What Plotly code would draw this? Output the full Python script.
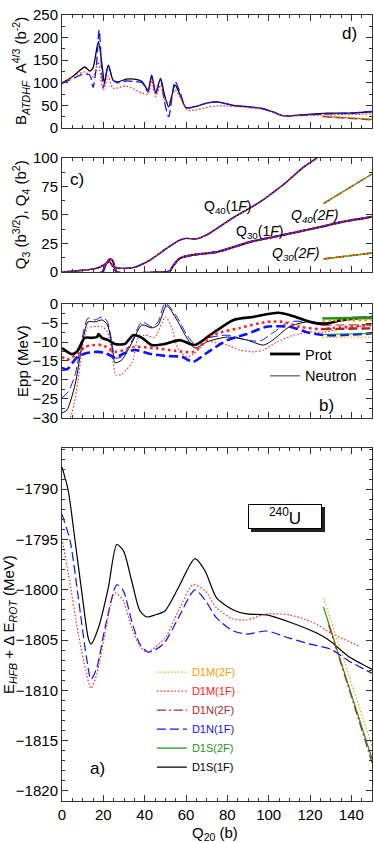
import plotly.graph_objects as go

# --- Panel a): E_HFB + dE_ROT (MeV) ---
a_d1s_1f_q = [0, 3, 6.3, 9.5, 12.7, 14, 17.6, 22.4, 26.5, 29.7, 33.7, 37.7, 41, 45, 49.8, 56.3, 64.3, 69.2, 74.8, 82.9, 89.4, 99, 110, 120, 126, 131, 138.5, 150]
a_d1s_1f_e = [-1787.8, -1790.1, -1795.1, -1800.1, -1804.8, -1805.4, -1803.8, -1799.8, -1795.5, -1796.1, -1799.1, -1802.1, -1802.7, -1802.5, -1802.1, -1799.8, -1796.9, -1798.1, -1800.8, -1802.0, -1802.4, -1802.5, -1803.2, -1804.0, -1804.6, -1805.3, -1806.6, -1807.9]
a_d1n_1f_q = [0, 3.9, 7.9, 11.9, 14, 16.8, 20.8, 26.5, 29.7, 33.7, 37.7, 41.8, 49, 56.3, 64.3, 69.2, 74.8, 82.9, 89.4, 99, 110, 120, 130, 139, 150]
a_d1n_1f_e = [-1792.5, -1795.1, -1800.8, -1806.8, -1808.9, -1807.8, -1803.8, -1799.5, -1800.1, -1803.1, -1805.4, -1806.2, -1805.4, -1802.8, -1800.0, -1801.0, -1802.8, -1804.1, -1804.4, -1804.1, -1804.8, -1805.4, -1805.9, -1807.1, -1808.3]
a_d1m_1f_q = [0, 3.1, 7.9, 11.9, 14, 16.8, 20.8, 25.6, 29.7, 33.7, 37.7, 41, 49.8, 56.3, 63.5, 69.2, 74.8, 82.9, 89.4, 99, 110, 121, 131, 144]
a_d1m_1f_e = [-1794.9, -1798.4, -1804.4, -1808.4, -1809.8, -1808.4, -1804.4, -1800.3, -1801.1, -1803.8, -1805.6, -1806.2, -1804.8, -1802.1, -1799.5, -1800.1, -1801.8, -1802.9, -1803.0, -1802.4, -1802.5, -1803.2, -1804.4, -1805.6]
a_d1s_2f_q = [126.5, 138, 150]
a_d1s_2f_e = [-1801.7, -1809.1, -1816.8]
a_d1n_2f_q = [129, 140, 150]
a_d1n_2f_e = [-1803.5, -1810.6, -1817.2]
a_d1m_2f_q = [126.5, 138, 150]
a_d1m_2f_e = [-1800.8, -1808.0, -1815.5]

# --- Panel b): pairing energies (MeV) ---
b_d1s_p_q = [0, 4.8, 7.3, 11, 14.4, 17, 17.6, 19.4, 22.4, 25.6, 30.5, 34.4, 38.7, 43.5, 50, 57, 64.3, 71.6, 83, 92.5, 104.5, 112, 120, 127, 133, 141, 150]
b_d1s_p_v = [-11.6, -13.2, -12.5, -8.9, -8.9, -8.7, -7.9, -8.9, -9.5, -10.5, -10.5, -8.2, -8.9, -10.8, -10.5, -9.5, -10.8, -8.2, -4.2, -3.4, -2.3, -3.2, -4.7, -5.3, -4.5, -3.7, -3.7]
b_d1n_p_q = [0, 2.4, 7.3, 12, 17.4, 21, 25.6, 30.5, 35, 43.5, 51, 58, 63.4, 70, 80, 89.5, 99, 110, 120, 127, 135, 150]
b_d1n_p_v = [-16.8, -17.2, -14, -12.9, -12.6, -12.9, -14, -12.9, -12.1, -13.2, -13.7, -13.9, -15.2, -12.9, -9.5, -7.9, -6, -6, -7.6, -8.2, -8.2, -7.7]
b_d1m_p_q = [0, 2.4, 8.7, 11, 19.4, 25.6, 35, 45, 54.7, 63.4, 73, 86, 99, 107, 115, 125, 131, 150]
b_d1m_p_v = [-13.9, -14.7, -12.6, -11.3, -10.8, -12.6, -11.3, -11.6, -12.3, -12.6, -8.2, -6.3, -4.7, -4.7, -6, -6.6, -6.3, -5.5]
b_d1s_n_q = [0, 2.4, 6.3, 9.7, 12.6, 16, 19.4, 22, 24.7, 25.6, 29, 34, 38.7, 43.5, 46.5, 50, 51, 55.6, 60.5, 64.3, 70, 80, 89.5, 97.5, 102, 110, 118.5, 127, 135, 150]
b_d1s_n_v = [-28.7, -27.9, -21.3, -10.8, -4.7, -4.7, -4.2, -5.5, -12.9, -15.5, -14.7, -10, -5.5, -6.3, -5.5, -0.8, -0.5, -4.2, -9, -11.6, -10, -8.7, -9.5, -10.8, -9.5, -6, -4.7, -5, -4.5, -3.4]
b_d1n_n_q = [0, 3, 6.3, 9.7, 12.6, 16, 19.4, 22, 24.7, 25.6, 29, 34, 38.7, 43.5, 46.5, 50, 55.6, 60.5, 64.3, 70, 80, 89.5, 96, 102, 110, 120, 127, 135, 150]
b_d1n_n_v = [-24.7, -23.1, -18.7, -9, -3.7, -4.2, -3.4, -4.7, -12.1, -14.2, -13.9, -9.5, -4.7, -6, -4.7, 0.3, -3.4, -8.2, -10.5, -9, -8.2, -9.5, -9.7, -7.6, -4.7, -4.7, -5, -4.2, -3.2]
b_d1m_n_q = [0, 4.8, 7.7, 10, 12.6, 19.4, 22, 24.7, 26, 29, 34, 36.8, 40, 45, 50, 53, 56, 60.5, 64.3, 70, 80, 86, 92.5, 97.5, 104, 112, 120, 127, 135, 150]
b_d1m_n_v = [-35, -28.7, -20.5, -10.8, -6.3, -6, -7.4, -15.3, -18.7, -18.4, -15.3, -9, -8.2, -8.7, -3.4, -6, -11.6, -13.9, -12.9, -10, -10.8, -12.1, -12.6, -12.1, -10, -8.2, -7.4, -7.4, -6.6, -5.5]
b_2f_q = [126, 150]
b_d1s_2f_p = [-3.8, -3.6]
b_d1s_2f_n = [-8.0, -7.8]
b_d1n_2f_p = [-6.6, -6.4]
b_d1n_2f_n = [-5.6, -5.4]
b_d1m_2f_p = [-4.4, -4.2]
b_d1m_2f_n = [-8.8, -8.7]

# --- Panel c): multipole moments ---
c_q40_1f_q = [0, 10, 16, 18.4, 20.8, 23, 24.5, 26.5, 34.5, 42.6, 50.8, 57, 60, 63.4, 66, 70, 82.7, 95.8, 107, 116.6, 123.4]
c_q40_1f_v = [0, 1.5, 3, 4.4, 7, 9, 5, 3.5, 3.8, 10.5, 21, 28, 29.5, 29, 29.5, 32.5, 47.5, 61.5, 76.5, 91.5, 100]
c_q30_1f_q = [0, 19.5, 21, 23, 24.5, 25.6, 26.5, 50, 52, 54, 57, 63.4, 75, 91, 107, 123, 136, 150]
c_q30_1f_v = [0, 0, 6, 11, 10, 3, 0, 0, 0.5, 6, 12, 15, 17.6, 26.4, 32.5, 38.7, 44, 48.4]
c_2f_q = [126.5, 150]
c_q40_2f_v = [60, 86]
c_q30_2f_v = [11.4, 16.7]

# --- Panel d): collective inertia ---
d_d1s_q = [0, 4.8, 7.7, 11, 13.5, 15, 17.6, 19.6, 20.5, 22.4, 24.7, 27, 31, 35, 38.7, 41.6, 43.4, 45.3, 47.7, 49.5, 51.6, 54.7, 57, 60, 65, 70, 75, 83, 90, 96, 102, 107, 115, 128, 139, 150]
d_d1s_v = [99.6, 113, 124, 135, 126, 133, 191, 130, 100, 139, 106, 102, 108, 108, 103, 84, 117, 78, 110, 75, 47, 95, 75, 45, 48, 55, 58, 50, 47, 44, 36, 27, 29, 33, 33, 36]
d_d1n_q = [0, 7, 10, 13.5, 15, 16.5, 18, 20, 22.4, 24.7, 27, 31, 35, 38.7, 41.6, 43.4, 45.3, 47.7, 49.5, 51.6, 54.7, 57, 60, 65, 70, 75, 83, 90, 96, 102, 107, 115, 128, 139, 150]
d_d1n_v = [99, 113, 119, 117, 90, 130, 217, 90, 139, 106, 100, 104, 103, 100, 80, 115, 75, 108, 60, 25, 103, 80, 45, 48, 55, 58, 50, 47, 44, 36, 27, 28, 31, 33, 37]
d_d1m_q = [0, 7, 11, 15, 17.4, 20, 22.4, 24.7, 31, 39, 41.6, 43.4, 45.3, 47.7, 49.5, 51.6, 54.7, 57, 61, 75, 96, 107, 128, 150]
d_d1m_v = [97, 118, 124, 113, 146, 84, 115, 88, 93, 77, 75, 105, 70, 95, 65, 55, 84, 70, 40, 49, 42, 28, 29, 31]
d_2f_q = [126, 150]
d_d1s_2f_v = [26, 19]
d_d1n_2f_v = [25, 18]
d_d1m_2f_v = [27, 20]

FONT = "Liberation Sans, Arial, sans-serif"
BLACK, BLUE, RED = "#000000", "#1010ff", "#ff2020"
GREEN, BROWN, ORANGE = "#1a961a", "#a52a2a", "#f5a000"
DASH_N = "9px,4px"
DASH_N2 = "9px,3px,2px,3px"
DOT = "1.5px,2px"
DOT_THICK = "2.6px,3.4px"

AX = {"d": ("x", "y"), "c": ("x2", "y2"), "b": ("x3", "y3"), "a": ("x4", "y4")}

fig = go.Figure()


def add(panel, q, v, color, dash="solid", width=1.2, name=None, legend="legend"):
    xa, ya = AX[panel]
    fig.add_trace(
        go.Scatter(
            x=q, y=v, xaxis=xa, yaxis=ya, mode="lines",
            line=dict(color=color, dash=dash, width=width, shape="spline", smoothing=0.7),
            name=name if name else "", showlegend=name is not None, legend=legend,
            hoverinfo="skip",
        )
    )


def leg(txt, col):
    return f'<span style="color:{col}">{txt}</span>'


# panel a (legend order reversed)
add("a", a_d1s_1f_q, a_d1s_1f_e, BLACK, name=leg("D1S(1F)", BLACK))
add("a", a_d1s_2f_q, a_d1s_2f_e, GREEN, name=leg("D1S(2F)", GREEN))
add("a", a_d1n_1f_q, a_d1n_1f_e, BLUE, DASH_N, name=leg("D1N(1F)", BLUE))
add("a", a_d1n_2f_q, a_d1n_2f_e, BROWN, DASH_N2, name=leg("D1N(2F)", BROWN))
add("a", a_d1m_1f_q, a_d1m_1f_e, RED, DOT, width=1.2, name=leg("D1M(1F)", RED))
add("a", a_d1m_2f_q, a_d1m_2f_e, ORANGE, DOT, width=1.2, name=leg("D1M(2F)", ORANGE))

# panel b
add("b", b_d1s_n_q, b_d1s_n_v, BLACK, width=1)
add("b", b_d1n_n_q, b_d1n_n_v, BLUE, DASH_N, width=1)
add("b", b_d1m_n_q, b_d1m_n_v, RED, DOT, width=1.1)
add("b", b_d1s_p_q, b_d1s_p_v, BLACK, width=2.6)
add("b", b_d1n_p_q, b_d1n_p_v, BLUE, DASH_N, width=2.6)
add("b", b_d1m_p_q, b_d1m_p_v, RED, DOT_THICK, width=2.6)
add("b", b_2f_q, b_d1s_2f_p, GREEN, width=2.4)
add("b", b_2f_q, b_d1s_2f_n, GREEN, width=1)
add("b", b_2f_q, b_d1n_2f_p, BROWN, DASH_N, width=2.4)
add("b", b_2f_q, b_d1n_2f_n, BROWN, DASH_N, width=1)
add("b", b_2f_q, b_d1m_2f_p, ORANGE, DOT_THICK, width=2.4)
add("b", b_2f_q, b_d1m_2f_n, ORANGE, DOT, width=1.1)
fig.add_trace(go.Scatter(x=[None], y=[None], xaxis="x3", yaxis="y3", mode="lines",
                         line=dict(color=BLACK, width=2.8), name="Prot", legend="legend2"))
fig.add_trace(go.Scatter(x=[None], y=[None], xaxis="x3", yaxis="y3", mode="lines",
                         line=dict(color="#555555", width=1.2), name="Neutron", legend="legend2"))

# panel c
for col, dash in [(BLACK, "solid"), (BLUE, DASH_N), (RED, DOT)]:
    add("c", c_q40_1f_q, c_q40_1f_v, col, dash, width=1.4)
    add("c", c_q30_1f_q, c_q30_1f_v, col, dash, width=2)
for col, dash in [(GREEN, "solid"), (BROWN, DASH_N), (ORANGE, DOT)]:
    add("c", c_2f_q, c_q40_2f_v, col, dash, width=1.3)
    add("c", c_2f_q, c_q30_2f_v, col, dash, width=1.6)

# panel d
add("d", d_d1s_q, d_d1s_v, BLACK, width=1.3)
add("d", d_d1n_q, d_d1n_v, BLUE, DASH_N, width=1.3)
add("d", d_d1m_q, d_d1m_v, RED, DOT, width=1.3)
add("d", d_2f_q, d_d1s_2f_v, GREEN)
add("d", d_2f_q, d_d1n_2f_v, BROWN, DASH_N)
add("d", d_2f_q, d_d1m_2f_v, ORANGE, DOT)

axis_common = dict(
    showline=True, linecolor="#333333", linewidth=1, mirror="allticks",
    ticks="inside", ticklen=6, tickwidth=1, tickcolor="#333333",
    showgrid=False, zeroline=False,
    tickfont=dict(family=FONT, size=15, color="black"),
)


def xax(anchor, labels):
    return dict(axis_common, anchor=anchor, domain=[0, 1], range=[0, 150], dtick=20,
                showticklabels=labels,
                minor=dict(ticks="inside", dtick=5, ticklen=3, tickcolor="#333333"))


def yax(anchor, dom, rng, dtick, minor):
    return dict(axis_common, anchor=anchor, domain=dom, range=rng, dtick=dtick,
                minor=dict(ticks="inside", dtick=minor, ticklen=3, tickcolor="#333333"))


ytitle = dict(xref="paper", yref="paper", textangle=-90, xanchor="center", yanchor="middle",
              font=dict(size=15))
annots = [
    # panel labels
    dict(text="d)", x=139.3, y=210, xref="x", yref="y", font=dict(size=17)),
    dict(text="c)", x=7.3, y=81, xref="x2", yref="y2", font=dict(size=17)),
    dict(text="b)", x=128, y=-26.8, xref="x3", yref="y3", font=dict(size=17)),
    dict(text="a)", x=17, y=-1817.8, xref="x4", yref="y4", font=dict(size=17)),
    # curve labels
    dict(text="Q<sub>40</sub>(1<i>F</i>)", x=80.3, y=57, xref="x2", yref="y2"),
    dict(text="Q<sub>30</sub>(1<i>F</i>)", x=95.8, y=35, xref="x2", yref="y2"),
    dict(text="<i>Q<sub>40</sub>(2F)</i>", x=122.4, y=49, xref="x2", yref="y2"),
    dict(text="<i>Q<sub>30</sub>(2F)</i>", x=113, y=16, xref="x2", yref="y2"),
    # axis titles
    dict(ytitle, text="B<sub><i>ATDHF</i></sub>  A<sup>4/3</sup> (b<sup>-2</sup>)", x=-0.132, y=0.9288),
    dict(ytitle, text="Q<sub>3</sub> (b<sup>3/2</sup>), Q<sub>4</sub> (b<sup>2</sup>)", x=-0.135, y=0.7455),
    dict(ytitle, text="Epp (MeV)", x=-0.126, y=0.5598),
    dict(ytitle, text="E<sub><i>HFB</i></sub> + Δ E<sub><i>ROT</i></sub> (MeV)", x=-0.168, y=0.2252),
    dict(text="Q<sub>20</sub> (b)", x=0.4935, y=-0.041, xref="paper", yref="paper",
         xanchor="center", yanchor="middle", font=dict(size=15)),
    # nucleus box with shadow
    dict(text=" ", x=107.9, y=-1792.75, xref="x4", yref="y4", width=70, height=21,
         xshift=3, yshift=-3, bgcolor="#222222", bordercolor="#222222", borderwidth=1),
    dict(text="<sup>240</sup>U", x=107.9, y=-1792.75, xref="x4", yref="y4", width=70, height=21,
         bgcolor="white", bordercolor="black", borderwidth=1, font=dict(size=17)),
]
for an in annots:
    an.setdefault("showarrow", False)
    an.setdefault("font", dict(size=14))
    an["font"] = dict(dict(family=FONT, color="black"), **an["font"])

fig.update_layout(
    width=374, height=842,
    margin=dict(l=62, r=2, t=15, b=41),
    paper_bgcolor="white", plot_bgcolor="white",
    font=dict(family=FONT, color="black"),
    xaxis=xax("y", False), xaxis2=xax("y2", False), xaxis3=xax("y3", False), xaxis4=xax("y4", True),
    yaxis=yax("x", [0.8562, 1.0], [0, 250], 50, 25),
    yaxis2=yax("x2", [0.6730, 0.8181], [0, 100], 25, 12.5),
    yaxis3=yax("x3", [0.4873, 0.6323], [-30, 0], 5, 2.5),
    yaxis4=yax("x4", [0, 0.4491], [-1821, -1785.9], 5, 1),
    legend=dict(x=0.29, y=0.1824, xanchor="left", yanchor="top", traceorder="reversed",
                bgcolor="rgba(0,0,0,0)", font=dict(family=FONT, size=11)),
    legend2=dict(x=0.655, y=0.589, xanchor="left", yanchor="top",
                 bgcolor="rgba(0,0,0,0)", font=dict(family=FONT, size=14.5)),
    annotations=annots,
    showlegend=True,
)

fig.write_html("out.html", config={"displayModeBar": False},
               post_script="document.body.style.margin='0';")
